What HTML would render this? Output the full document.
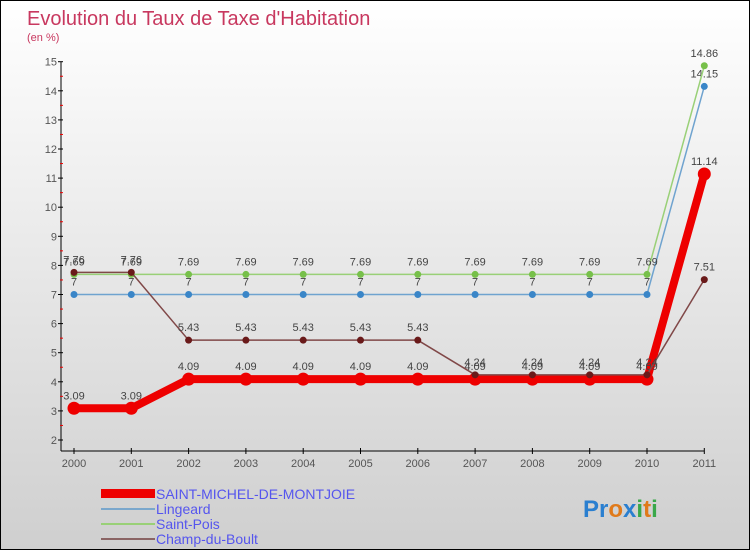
<!DOCTYPE html>
<html><head><meta charset="utf-8"><style>
body{margin:0}
#wrap{position:relative;width:750px;height:550px;box-sizing:border-box;border:1px solid #000;background:linear-gradient(#ffffff,#cfcfcf);font-family:"Liberation Sans",sans-serif;overflow:hidden}
</style></head><body>
<div id="wrap">
<svg id="chart" width="748" height="548" xmlns="http://www.w3.org/2000/svg">
<text x="26" y="24" font-size="20" fill="#c8385f">Evolution du Taux de Taxe d'Habitation</text>
<text x="26" y="40" font-size="11" fill="#c8385f">(en %)</text>
<g id="axes"></g>
<g id="series"></g>
<g id="legend" font-size="14" fill="#5555ee">
<rect x="100" y="488" width="54" height="9" fill="#ee0000"/>
<text x="155" y="498">SAINT-MICHEL-DE-MONTJOIE</text>
<rect x="100" y="507" width="54" height="2" fill="#7aa7cc"/>
<text x="155" y="513">Lingeard</text>
<rect x="100" y="522" width="54" height="2" fill="#99d077"/>
<text x="155" y="528">Saint-Pois</text>
<rect x="100" y="537" width="54" height="2" fill="#8a6464"/>
<text x="155" y="543">Champ-du-Boult</text>
</g>
<text x="582" y="516" font-size="24" font-weight="bold"><tspan fill="#2a7fd0">Pr</tspan><tspan fill="#e07a1a">o</tspan><tspan fill="#2a7fd0">x</tspan><tspan fill="#3aa84a">i</tspan><tspan fill="#e07a1a">t</tspan><tspan fill="#3aa84a">i</tspan></text>
</svg>
</div>
<script>
const years=["2000","2001","2002","2003","2004","2005","2006","2007","2008","2009","2010","2011"];
const yTicks=[2,3,4,5,6,7,8,9,10,11,12,13,14,15];
const saintMichel=[3.09,3.09,4.09,4.09,4.09,4.09,4.09,4.09,4.09,4.09,4.09,11.14];
const lingeard=[7,7,7,7,7,7,7,7,7,7,7,14.15];
const saintPois=[7.69,7.69,7.69,7.69,7.69,7.69,7.69,7.69,7.69,7.69,7.69,14.86];
const champ=[7.76,7.76,5.43,5.43,5.43,5.43,5.43,4.24,4.24,4.24,4.24,7.51];
const NS="http://www.w3.org/2000/svg";
const X=i=>73+i*57.3;
const Y=v=>439-(v-2)*29.1;
function mk(tag,attrs,parent,txt){const e=document.createElementNS(NS,tag);for(const k in attrs)e.setAttribute(k,attrs[k]);if(txt!==undefined)e.textContent=txt;parent.appendChild(e);return e;}
const axes=document.getElementById('axes');
let yl=mk('line',{x1:60,y1:Y(15),x2:60,y2:450,stroke:'#000'},axes);


let xl=mk('line',{x1:60,y1:450,x2:X(11),y2:450,stroke:'#000'},axes);


yTicks.forEach(t=>{
 mk('line',{x1:57,y1:Y(t),x2:62,y2:Y(t),stroke:'#000'},axes);
 if(t<15)mk('line',{x1:59,y1:Y(t+0.5),x2:62,y2:Y(t+0.5),stroke:'#e00'},axes);
 const tx=mk('text',{x:56,y:Y(t)+4,'font-size':11,fill:'#555','text-anchor':'end'},axes,String(t));
 
 
});
years.forEach((y,i)=>{
 mk('line',{x1:X(i),y1:447,x2:X(i),y2:453,stroke:'#000'},axes);
 const tx=mk('text',{x:X(i),y:466,'font-size':11,fill:'#555','text-anchor':'middle'},axes,y);
 
 
});
const sg=document.getElementById('series');
function draw(vals,color,w,r,name,dot){
 const g=mk('g',{},sg);
 
 
 const pts=vals.map((v,i)=>X(i)+','+Y(v)).join(' ');
 mk('polyline',{points:pts,fill:'none',stroke:color,'stroke-width':w,'stroke-linejoin':'round'},g);
 vals.forEach((v,i)=>{
  const c=mk('circle',{cx:X(i),cy:Y(v),r:r,fill:dot},g);
  
  
  const lab=String(v).replace('.',',').replace(',', '.');
  mk('text',{x:X(i),y:Y(v)-9,'font-size':11,fill:'#444','text-anchor':'middle'},g,lab);
 });
}
draw(lingeard,'#6fa3cf',1.5,3.5,'series-lingeard','#3a86c8');
draw(saintPois,'#99d077',1.5,3.5,'series-saint-pois','#77c04a');
draw(saintMichel,'#ee0000',8,6.5,'series-saint-michel','#ee0000');
draw(champ,'#804848',1.5,3.5,'series-champ-du-boult','#6a1a1a');
</script>
</body></html>
